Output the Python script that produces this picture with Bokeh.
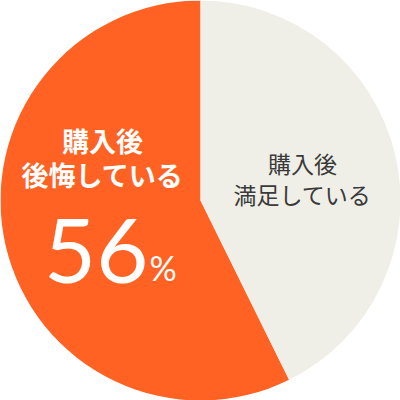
import math
from bokeh.core.properties import value
from bokeh.embed import file_html
from bokeh.models import ColumnDataSource
from bokeh.plotting import figure
from bokeh.resources import INLINE

labels = ["購入後後悔している", "購入後満足している"]
shares = [57.3, 42.7]
colors = ["#FF6223", "#F0EFE7"]
big_number = "56"

# wedges start at 12 o'clock and run counter-clockwise
total = sum(shares)
starts, ends = [], []
a = math.pi / 2
for s in shares:
    starts.append(a)
    a += s / total * 2 * math.pi
    ends.append(a)

src = ColumnDataSource(data=dict(label=labels, share=shares, color=colors,
                                 start=starts, end=ends))

p = figure(width=400, height=400, x_range=(-1, 1), y_range=(-1, 1),
           output_backend="svg", toolbar_location=None, min_border=0)
p.axis.visible = False
p.grid.visible = False
p.outline_line_color = None
p.background_fill_color = "white"

p.wedge(x=0, y=0, radius=1, start_angle="start", end_angle="end",
        color="color", line_color=None, source=src)

jp = value("Noto Sans CJK JP")

# orange slice label
p.text(x=[-0.49, -0.49], y=[0.3, 0.13], text=["購入後", "後悔している"],
       text_color="white", text_font=jp, text_font_size="27px",
       text_font_style="bold", text_align="center", text_baseline="middle")
p.text(x=[-0.26], y=[-0.25], text=[big_number], text_color="white",
       text_font=value("Lato"), text_font_size="90px",
       text_align="right", text_baseline="middle")
p.text(x=[-0.255], y=[-0.335], text=["%"], text_color="white",
       text_font=value("Lato"), text_font_size="34px",
       text_align="left", text_baseline="middle")

# beige slice label
p.text(x=[0.51, 0.51], y=[0.19, 0.035], text=["購入後", "満足している"],
       text_color="#3a3a3a", text_font=jp, text_font_size="23px",
       text_align="center", text_baseline="middle")

open("out.html", "w").write(file_html(p, INLINE))
